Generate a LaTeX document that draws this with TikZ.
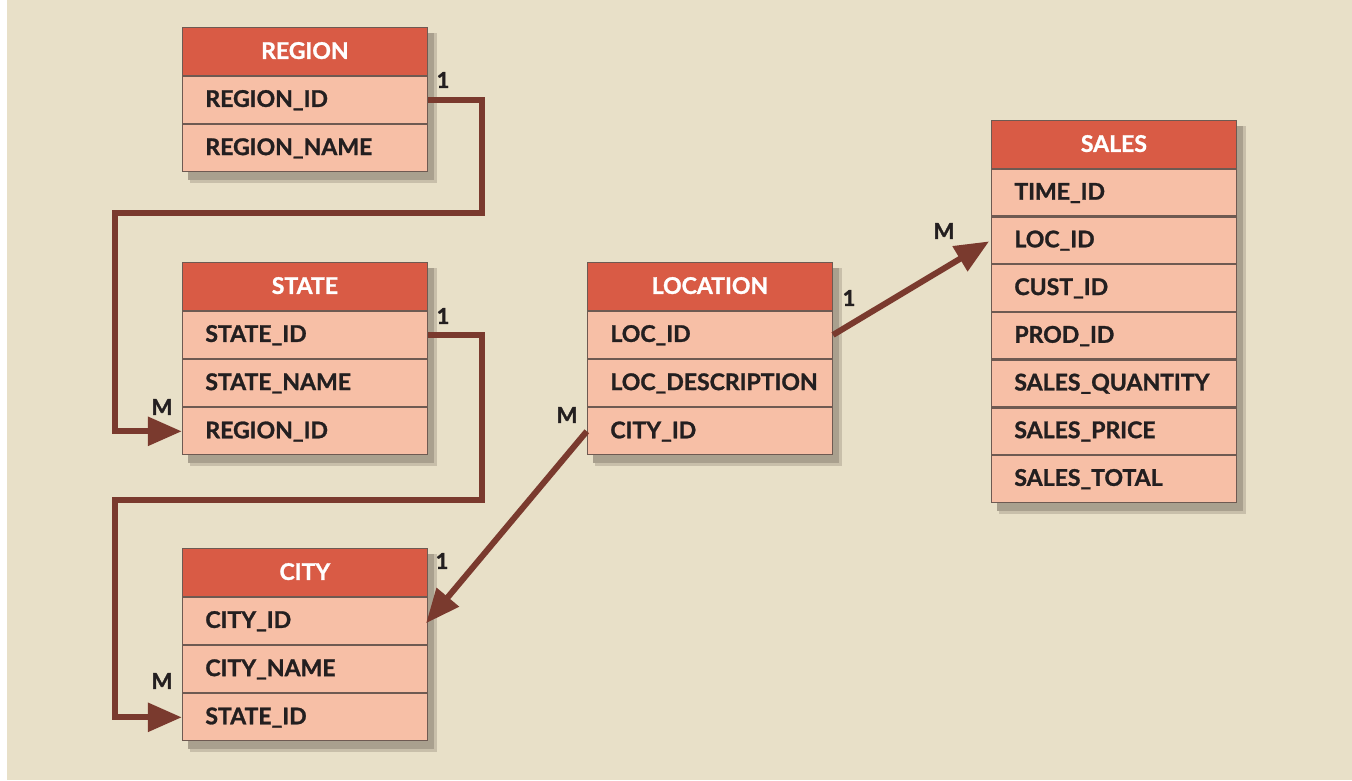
\documentclass[tikz,border=0pt]{standalone}
\usepackage{fontspec}
\setmainfont{Lato}[BoldFeatures={FakeBold=1.2}]
\usetikzlibrary{arrows.meta,calc,backgrounds}
\definecolor{bgc}{HTML}{E8E0C8}
\definecolor{hdrc}{HTML}{D95B45}
\definecolor{fldc}{HTML}{F7BFA6}
\definecolor{sepc}{HTML}{6E5A52}
\definecolor{connc}{HTML}{7A3A2E}
\definecolor{txtc}{HTML}{231F20}
\definecolor{shadc}{HTML}{A9A08E}
\definecolor{shadlc}{HTML}{C8BFAA}
\begin{document}
\begin{tikzpicture}[x=1pt,y=-1pt,
  hdrbox/.style={rectangle,fill=hdrc,draw=sepc,line width=0.8pt,minimum height=48pt,
     minimum width=245pt,inner sep=0pt,text=white,text height=15pt,text depth=0pt,
     font=\fontsize{23}{25}\selectfont\bfseries},
  fldbox/.style={rectangle,fill=fldc,draw=sepc,line width=1.2pt,minimum height=47pt,
     text width=199pt,inner xsep=23pt,inner ysep=0pt,align=left,text=txtc,
     text height=17pt,text depth=3pt,font=\fontsize{23}{25}\selectfont\bfseries},
  sfldbox/.style={fldbox,minimum height=46.5pt},
  shadbox/.style={fill=shadc},
  shadsoft/.style={fill=shadlc},
  conn/.style={draw=connc,line width=6pt,line join=miter},
  arr/.style={conn,-{Triangle[length=34pt,width=28pt]}},
  lbl/.style={font=\fontsize{22}{24}\selectfont\bfseries,text=txtc,inner sep=0pt}]
\useasboundingbox (0,0) rectangle (1352,780);
\begin{scope}[on background layer]
\fill[bgc] (7,0) rectangle (1352,780);
\end{scope}

% REGION
\node[hdrbox,anchor=north west] (region) at (182,27) {REGION};
\node[fldbox,anchor=north] (region-1) at (region.south) {REGION\_ID};
\node[fldbox,anchor=north] (region-2) at (region-1.south) {REGION\_NAME};

% STATE
\node[hdrbox,anchor=north west] (state) at (182,262) {STATE};
\node[fldbox,anchor=north] (state-1) at (state.south) {STATE\_ID};
\node[fldbox,anchor=north] (state-2) at (state-1.south) {STATE\_NAME};
\node[fldbox,anchor=north] (state-3) at (state-2.south) {REGION\_ID};

% CITY
\node[hdrbox,anchor=north west] (city) at (182,548) {CITY};
\node[fldbox,anchor=north] (city-1) at (city.south) {CITY\_ID};
\node[fldbox,anchor=north] (city-2) at (city-1.south) {CITY\_NAME};
\node[fldbox,anchor=north] (city-3) at (city-2.south) {STATE\_ID};

% LOCATION
\node[hdrbox,anchor=north west] (location) at (587,262) {LOCATION};
\node[fldbox,anchor=north] (location-1) at (location.south) {LOC\_ID};
\node[fldbox,anchor=north] (location-2) at (location-1.south) {LOC\_DESCRIPTION};
\node[fldbox,anchor=north] (location-3) at (location-2.south) {CITY\_ID};

% SALES
\node[hdrbox,anchor=north west] (sales) at (991,120) {SALES};
\node[sfldbox,anchor=north] (sales-1) at (sales.south) {TIME\_ID};
\node[sfldbox,anchor=north] (sales-2) at (sales-1.south) {LOC\_ID};
\node[sfldbox,anchor=north] (sales-3) at (sales-2.south) {CUST\_ID};
\node[sfldbox,anchor=north] (sales-4) at (sales-3.south) {PROD\_ID};
\node[sfldbox,anchor=north] (sales-5) at (sales-4.south) {SALES\_QUANTITY};
\node[sfldbox,anchor=north] (sales-6) at (sales-5.south) {SALES\_PRICE};
\node[sfldbox,anchor=north] (sales-7) at (sales-6.south) {SALES\_TOTAL};

% shadows
\begin{scope}[on background layer]
\foreach \t/\b in {region/region-2,state/state-3,city/city-3,location/location-3,sales/sales-7}{
  \fill[shadsoft] ($(\t.north west)+(8,6)$) rectangle ($(\b.south east)+(9,11)$);
  \fill[shadbox] ($(\t.north west)+(6,6)$) rectangle ($(\b.south east)+(6,8)$);
}
\end{scope}

% connectors
\coordinate (c1a) at (482,213);
\coordinate (c1b) at (115,213);
\coordinate (c2a) at (482,500);
\coordinate (c2b) at (115,500);
\draw[arr] (region-1.east) -| (c1a) -- (c1b) |- (state-3.west);
\draw[arr] (state-1.east) -| (c2a) -- (c2b) |- (city-3.west);
\draw[arr,shorten >=-3pt] (location-3.west) -- (city-1.east);
\draw[arr,shorten >=2pt] (location-1.east) -- (sales-2.west);

% labels
\node[lbl] (l1) at (443,80) {1};
\node[lbl] (l2) at (162,407) {M};
\node[lbl] (l3) at (443,316) {1};
\node[lbl] (l4) at (162,681) {M};
\node[lbl] (l5) at (567,415) {M};
\node[lbl] (l6) at (442,561) {1};
\node[lbl] (l7) at (849,298) {1};
\node[lbl] (l8) at (944,231) {M};
\end{tikzpicture}
\end{document}
